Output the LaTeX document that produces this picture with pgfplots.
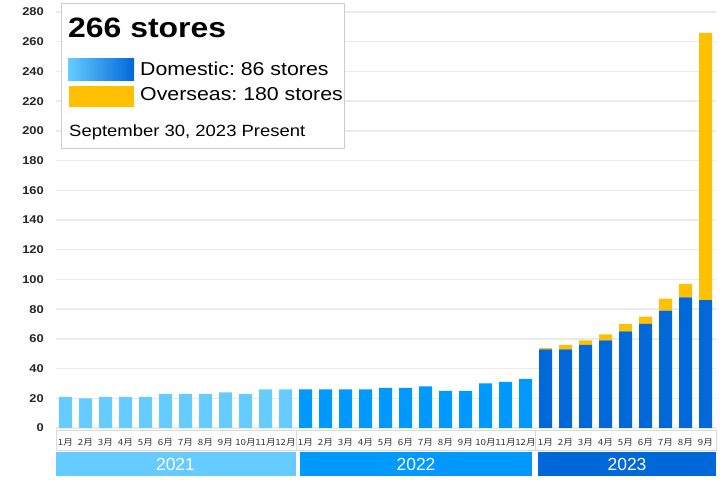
\documentclass[border=0pt]{standalone}
\usepackage{pgfplots}
\usepackage{pgfplotstable}
\pgfplotsset{compat=1.18}
\usepackage{fontspec}
\setmainfont{Liberation Sans}[FakeStretch=1.14]
\newfontfamily\yearfont{Liberation Sans}
\newfontfamily\cjk{Noto Sans CJK JP}[FakeStretch=1.14]
\frenchspacing
\definecolor{c21}{HTML}{66CCFF}
\definecolor{c22}{HTML}{0099FF}
\definecolor{c23}{HTML}{0068D9}
\definecolor{cov}{HTML}{FFC000}
\definecolor{gridc}{HTML}{EBEBEB}
\pgfplotstableread{
x d21 d22 d23 ov
0 21 0 0 0
1 20 0 0 0
2 21 0 0 0
3 21 0 0 0
4 21 0 0 0
5 23 0 0 0
6 23 0 0 0
7 23 0 0 0
8 24 0 0 0
9 23 0 0 0
10 26 0 0 0
11 26 0 0 0
12 0 26 0 0
13 0 26 0 0
14 0 26 0 0
15 0 26 0 0
16 0 27 0 0
17 0 27 0 0
18 0 28 0 0
19 0 25 0 0
20 0 25 0 0
21 0 30 0 0
22 0 31 0 0
23 0 33 0 0
24 0 0 53 1
25 0 0 53 3
26 0 0 56 3
27 0 0 59 4
28 0 0 65 5
29 0 0 70 5
30 0 0 79 8
31 0 0 88 9
32 0 0 86 180
}\data
\begin{document}
\begin{tikzpicture}[x=1pt,y=1pt]
% month label row and year bands (drawn first, under the tick labels)
\draw[draw=black!15, fill=white, line width=0.75pt] (56,29) rectangle (716,49);
\draw[draw=black!15, line width=0.75pt] (296.5,29) -- (296.5,49);
\draw[draw=black!15, line width=0.75pt] (535.5,29) -- (535.5,49);
\fill[c21] (56,3) rectangle (295.5,27);
\fill[c22] (300,3) rectangle (532.3,27);
\fill[c23] (538.3,3) rectangle (716,27);
\node[text=white, font=\yearfont\fontsize{17.5}{17.5}\selectfont, inner sep=0pt] at (175.5,15) {2021};
\node[text=white, font=\yearfont\fontsize{17.5}{17.5}\selectfont, inner sep=0pt] at (416,15) {2022};
\node[text=white, font=\yearfont\fontsize{17.5}{17.5}\selectfont, inner sep=0pt] at (627,15) {2023};
\begin{axis}[
 at={(55.5pt,51pt)}, anchor=south west,
 scale only axis, width=660pt, height=416pt,
 xmin=-0.5, xmax=32.5, ymin=0, ymax=280,
 ybar stacked, bar width=13pt,
 ytick={0,20,...,280},
 xtick={0,...,32},
 xticklabels={1月,2月,3月,4月,5月,6月,7月,8月,9月,10月,11月,12月,1月,2月,3月,4月,5月,6月,7月,8月,9月,10月,11月,12月,1月,2月,3月,4月,5月,6月,7月,8月,9月},
 axis line style={draw=none},
 major tick length=0pt,
 ymajorgrids, grid style={gridc, line width=1.5pt},
 /pgf/number format/assume math mode=true,
 yticklabel style={font=\bfseries\fontsize{11.3}{11.3}\selectfont, text=black!85, anchor=east, inner sep=0pt, xshift=-11.5pt},
 xticklabel style={font=\cjk\fontsize{8.5}{8.5}\selectfont, text=black!80, anchor=center, inner sep=0pt, yshift=-14.5pt},
 clip=false,
]
\addplot[fill=c21, draw=none] table[x=x,y=d21]{\data};
\addplot[fill=c22, draw=none] table[x=x,y=d22]{\data};
\addplot[fill=c23, draw=none] table[x=x,y=d23]{\data};
\addplot[fill=cov, draw=none] table[x=x,y=ov]{\data};
\end{axis}
\draw[draw=black!20, fill=white, line width=0.75pt] (61,331) rectangle (344,476);
\node[anchor=base west, inner sep=0pt, font=\bfseries\fontsize{28}{28}\selectfont] at (68,441) {266 stores};
\shade[left color=c21, middle color=c22, right color=c23] (68,398) rectangle (134,420);
\node[anchor=base west, inner sep=0pt, font=\fontsize{18.7}{18.7}\selectfont] at (140,403) {Domestic: 86 stores};
\fill[cov] (69,372) rectangle (134,393);
\node[anchor=base west, inner sep=0pt, font=\fontsize{18.7}{18.7}\selectfont] at (140,378) {Overseas: 180 stores};
\node[anchor=base west, inner sep=0pt, font=\fontsize{16.2}{16.2}\selectfont] at (69,342) {September 30, 2023 Present};
\pgfresetboundingbox
\useasboundingbox (0,0) rectangle (725,479);
\end{tikzpicture}
\end{document}
